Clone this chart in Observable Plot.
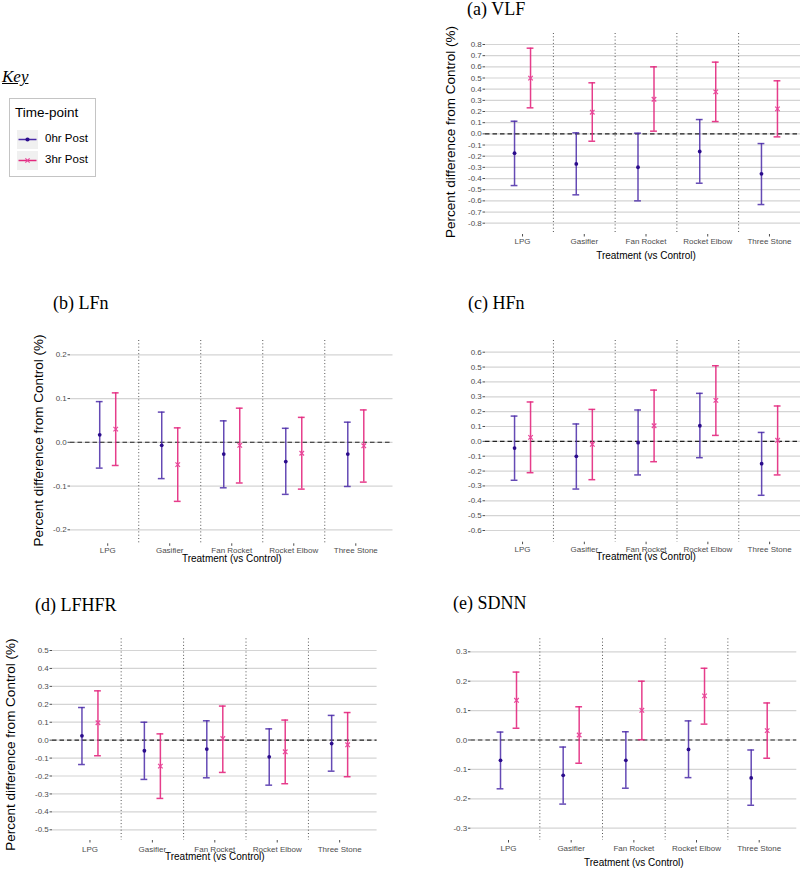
<!DOCTYPE html>
<html><head><meta charset="utf-8">
<script src="https://cdn.jsdelivr.net/npm/d3@7"></script>
<script src="https://cdn.jsdelivr.net/npm/@observablehq/plot@0.6"></script>
<style>
html,body{margin:0;padding:0;background:#fff;overflow:hidden;width:800px;height:871px;}
body{position:relative;font-family:"Liberation Sans",Arial,sans-serif;}
.panel{position:absolute;overflow:visible;}
.panel svg{display:block;overflow:visible;max-width:none !important;}
.ptitle{position:absolute;font-family:"Liberation Serif","Times New Roman",serif;font-size:18px;line-height:18px;color:#000;white-space:nowrap;}
.key{position:absolute;left:2px;top:68px;font-family:"Liberation Serif","Times New Roman",serif;font-style:italic;text-decoration:underline;font-size:17px;line-height:18px;}
.legend{position:absolute;left:9px;top:98px;width:87px;height:79px;border:1px solid #c4c4c4;box-sizing:border-box;}
.lg{position:absolute;white-space:nowrap;color:#000;}
</style></head><body>
<script>
// ---------- data ----------
const categories = ["LPG", "Gasifier", "Fan Rocket", "Rocket Elbow", "Three Stone"];
const timepoints = ["0hr Post", "3hr Post"];
const xTitle = "Treatment (vs Control)";
const yTitle = "Percent difference from Control (%)";

// (a) VLF
const vlf0Est = [-0.173, -0.269, -0.299, -0.158, -0.358];
const vlf0Lo  = [-0.463, -0.546, -0.600, -0.442, -0.633];
const vlf0Hi  = [0.113, 0.009, 0.006, 0.128, -0.087];
const vlf3Est = [0.499, 0.194, 0.310, 0.376, 0.224];
const vlf3Lo  = [0.233, -0.066, 0.024, 0.110, -0.027];
const vlf3Hi  = [0.767, 0.457, 0.600, 0.642, 0.475];
const vlfTicks = [-0.8, -0.7, -0.6, -0.5, -0.4, -0.3, -0.2, -0.1, 0, 0.1, 0.2, 0.3, 0.4, 0.5, 0.6, 0.7, 0.8];

// (b) LFn
const lfn0Est = [0.017, -0.007, -0.027, -0.044, -0.027];
const lfn0Lo  = [-0.059, -0.083, -0.104, -0.119, -0.101];
const lfn0Hi  = [0.093, 0.069, 0.049, 0.032, 0.046];
const lfn3Est = [0.030, -0.051, -0.007, -0.025, -0.008];
const lfn3Lo  = [-0.053, -0.135, -0.093, -0.107, -0.091];
const lfn3Hi  = [0.113, 0.033, 0.078, 0.057, 0.074];
const lfnTicks = [-0.2, -0.1, 0, 0.1, 0.2];

// (c) HFn
const hfn0Est = [-0.045, -0.101, -0.009, 0.105, -0.150];
const hfn0Lo  = [-0.262, -0.321, -0.226, -0.110, -0.363];
const hfn0Hi  = [0.170, 0.117, 0.211, 0.323, 0.060];
const hfn3Est = [0.027, -0.020, 0.105, 0.276, 0.007];
const hfn3Lo  = [-0.211, -0.258, -0.137, 0.040, -0.226];
const hfn3Hi  = [0.265, 0.215, 0.345, 0.509, 0.238];
const hfnTicks = [-0.6, -0.5, -0.4, -0.3, -0.2, -0.1, 0, 0.1, 0.2, 0.3, 0.4, 0.5, 0.6];

// (d) LFHFR
const lfhfr0Est = [0.024, -0.059, -0.050, -0.093, -0.019];
const lfhfr0Lo  = [-0.136, -0.219, -0.210, -0.251, -0.173];
const lfhfr0Hi  = [0.182, 0.100, 0.108, 0.063, 0.138];
const lfhfr3Est = [0.097, -0.145, 0.009, -0.065, -0.026];
const lfhfr3Lo  = [-0.087, -0.325, -0.180, -0.243, -0.204];
const lfhfr3Hi  = [0.275, 0.035, 0.190, 0.112, 0.154];
const lfhfrTicks = [-0.5, -0.4, -0.3, -0.2, -0.1, 0, 0.1, 0.2, 0.3, 0.4, 0.5];

// (e) SDNN
const sdnn0Est = [-0.069, -0.120, -0.069, -0.032, -0.129];
const sdnn0Lo  = [-0.166, -0.218, -0.164, -0.128, -0.222];
const sdnn0Hi  = [0.027, -0.024, 0.028, 0.065, -0.034];
const sdnn3Est = [0.135, 0.017, 0.101, 0.150, 0.032];
const sdnn3Lo  = [0.040, -0.079, 0.001, 0.054, -0.062];
const sdnn3Hi  = [0.231, 0.113, 0.200, 0.244, 0.126];
const sdnnTicks = [-0.3, -0.2, -0.1, 0, 0.1, 0.2, 0.3];

// ---------- styles ----------
const purpleBar = "#4a2aa8", purpleDot = "#2b0c8c";
const pinkBar = "#e3287e", pinkDot = "#e8479a";
const DODGE = 8, CAP = 3.4;

function rowsFor(est, lo, hi, time) {
  return categories.map((c, i) => ({cat: c, pos: i + 1, time, est: est[i], lo: lo[i], hi: hi[i]}));
}

function errorMarks(rows, dx, color, opacity) {
  const common = {dx, stroke: color, strokeOpacity: opacity, strokeWidth: 1.5};
  return [
    Plot.ruleX(rows, {x: "pos", y1: "lo", y2: "hi", ...common}),
    Plot.ruleY(rows, {x1: "pos", x2: "pos", y: "lo", insetLeft: -CAP, insetRight: -CAP, ...common}),
    Plot.ruleY(rows, {x1: "pos", x2: "pos", y: "hi", insetLeft: -CAP, insetRight: -CAP, ...common})
  ];
}

function makePanel(cfg) {
  const r0 = rowsFor(cfg.s0[0], cfg.s0[1], cfg.s0[2], timepoints[0]);
  const r3 = rowsFor(cfg.s3[0], cfg.s3[1], cfg.s3[2], timepoints[1]);
  const ticks = cfg.ticks;
  const seps = d3.range(1, categories.length).map(i => i + 0.5);
  const marks = [
    Plot.ruleY(ticks, {stroke: "#d4d4d4", strokeWidth: 1.2}),
    Plot.ruleX(seps, {stroke: "#555", strokeDasharray: "1,2.3", strokeWidth: 1}),
    Plot.ruleY([0], {stroke: "#222", strokeDasharray: "4.5,3", strokeWidth: 1.1}),
    ...errorMarks(r0, -DODGE, purpleBar, 0.85),
    ...errorMarks(r3, DODGE, pinkBar, 0.9),
    Plot.dot(r0, {x: "pos", y: "est", dx: -DODGE, r: 1.9, fill: purpleDot, stroke: "none"}),
    Plot.dot(r3, {x: "pos", y: "est", dx: DODGE, r: 2.2, symbol: "times", stroke: pinkDot, strokeWidth: 1.2}),
    Plot.axisX({ticks: categories.map((_, i) => i + 1), tickFormat: d => categories[d - 1], tickSize: 2.5, tickPadding: cfg.xPad, fontSize: 8, color: "#4d4d4d", label: null}),
    Plot.axisY({ticks, tickFormat: d => d.toFixed(1), tickSize: 2.5, tickPadding: 1.2, fontSize: 8, color: "#4d4d4d", label: null}),
    Plot.text([xTitle], {text: d => d, frameAnchor: "bottom", textAnchor: "middle", dy: cfg.xTitleDy, fontSize: 10, fill: "#000"})
  ];
  if (cfg.yTitle) {
    marks.push(Plot.text([yTitle], {text: d => d, frameAnchor: "left", textAnchor: "middle", rotate: -90, dx: cfg.yTitleDx, dy: cfg.yTitleDy, fontSize: 13.5, fill: "#000"}));
  }
  const plot = Plot.plot({
    width: cfg.width, height: cfg.height,
    marginLeft: cfg.ml, marginRight: cfg.mr, marginTop: cfg.mt, marginBottom: cfg.mb,
    x: {type: "linear", domain: [0.4, categories.length + 0.6]},
    y: {domain: [ticks[0], ticks[ticks.length - 1]], insetTop: cfg.it, insetBottom: cfg.ib},
    style: {fontFamily: "'Liberation Sans', Arial, sans-serif", background: "transparent", overflow: "visible", maxWidth: "none"},
    marks
  });
  plot.style.maxWidth = "none";
  plot.style.width = cfg.width + "px";
  plot.style.height = cfg.height + "px";
  const div = document.createElement("div");
  div.className = "panel";
  div.style.left = cfg.left + "px";
  div.style.top = cfg.top + "px";
  div.style.width = cfg.width + "px";
  div.style.height = cfg.height + "px";
  div.appendChild(plot);
  document.body.appendChild(div);
  const t = document.createElement("div");
  t.className = "ptitle";
  t.textContent = cfg.title;
  t.style.left = cfg.titleX + "px";
  t.style.top = (cfg.titleY - 9) + "px";
  document.body.appendChild(t);
}

const panels = [
  {title: "(a) VLF", titleX: 467, titleY: 9, left: 400, top: 0, width: 408, height: 272, ml: 85, mr: 2, mt: 33, mb: 38, it: 11, ib: 11.3,
   ticks: vlfTicks, s0: [vlf0Est, vlf0Lo, vlf0Hi], s3: [vlf3Est, vlf3Lo, vlf3Hi], xPad: 1.2, xTitleDy: 24, yTitle: true, yTitleDx: -35, yTitleDy: -2},
  {title: "(b) LFn", titleX: 53, titleY: 303, left: 0, top: 290, width: 400, height: 280, ml: 70, mr: 7.5, mt: 50, mb: 26.7, it: 14.3, ib: 14,
   ticks: lfnTicks, s0: [lfn0Est, lfn0Lo, lfn0Hi], s3: [lfn3Est, lfn3Lo, lfn3Hi], xPad: 1.2, xTitleDy: 18.4, yTitle: true, yTitleDx: -32, yTitleDy: -1.7},
  {title: "(c) HFn", titleX: 468, titleY: 303, left: 400, top: 290, width: 408, height: 280, ml: 85, mr: 1.8, mt: 50, mb: 28.3, it: 11.7, ib: 11.7,
   ticks: hfnTicks, s0: [hfn0Est, hfn0Lo, hfn0Hi], s3: [hfn3Est, hfn3Lo, hfn3Hi], xPad: 1.2, xTitleDy: 17.6, yTitle: false},
  {title: "(d) LFHFR", titleX: 35, titleY: 605, left: 0, top: 585, width: 400, height: 286, ml: 52, mr: 23.4, mt: 53.3, mb: 31, it: 11.7, ib: 10.7,
   ticks: lfhfrTicks, s0: [lfhfr0Est, lfhfr0Lo, lfhfr0Hi], s3: [lfhfr3Est, lfhfr3Lo, lfhfr3Hi], xPad: 2.9, xTitleDy: 19.3, yTitle: true, yTitleDx: -42, yTitleDy: 5},
  {title: "(e) SDNN", titleX: 453, titleY: 603, left: 400, top: 585, width: 400, height: 286, ml: 70.4, mr: 3.7, mt: 53.3, mb: 31, it: 13, ib: 12.3,
   ticks: sdnnTicks, s0: [sdnn0Est, sdnn0Lo, sdnn0Hi], s3: [sdnn3Est, sdnn3Lo, sdnn3Hi], xPad: 2.3, xTitleDy: 25.7, yTitle: false}
];
panels.forEach(makePanel);

// ---------- key / legend ----------
const key = document.createElement("div");
key.className = "key";
key.textContent = "Key";
document.body.appendChild(key);

const legend = document.createElement("div");
legend.className = "legend";
document.body.appendChild(legend);

function lgText(txt, x, cy, size) {
  const d = document.createElement("div");
  d.className = "lg";
  d.textContent = txt;
  d.style.left = x + "px";
  d.style.top = (cy - size * 0.6) + "px";
  d.style.fontSize = size + "px";
  d.style.lineHeight = (size * 1.2) + "px";
  document.body.appendChild(d);
}
lgText("Time-point", 15, 113, 13.5);
const glyphs = [
  {cy: 139.3, line: purpleBar, mark: `<circle cx="10.5" cy="9.5" r="2.1" fill="${purpleDot}"/>`},
  {cy: 160, line: pinkBar, mark: `<path d="M8.4,7.4L12.6,11.6M12.6,7.4L8.4,11.6" stroke="${pinkDot}" stroke-width="1.2"/>`}
];
glyphs.forEach((g, k) => {
  const s = document.createElement("div");
  s.style.position = "absolute";
  s.style.left = "17px";
  s.style.top = (g.cy - 9.5) + "px";
  s.innerHTML = `<svg width="21" height="19" style="display:block"><rect width="21" height="19" fill="#f0f0f0"/><line x1="1.5" x2="19.5" y1="9.5" y2="9.5" stroke="${g.line}" stroke-width="1.5"/>${g.mark}</svg>`;
  document.body.appendChild(s);
  lgText(timepoints[k], 45, g.cy, 11.5);
});
</script>
</body></html>
